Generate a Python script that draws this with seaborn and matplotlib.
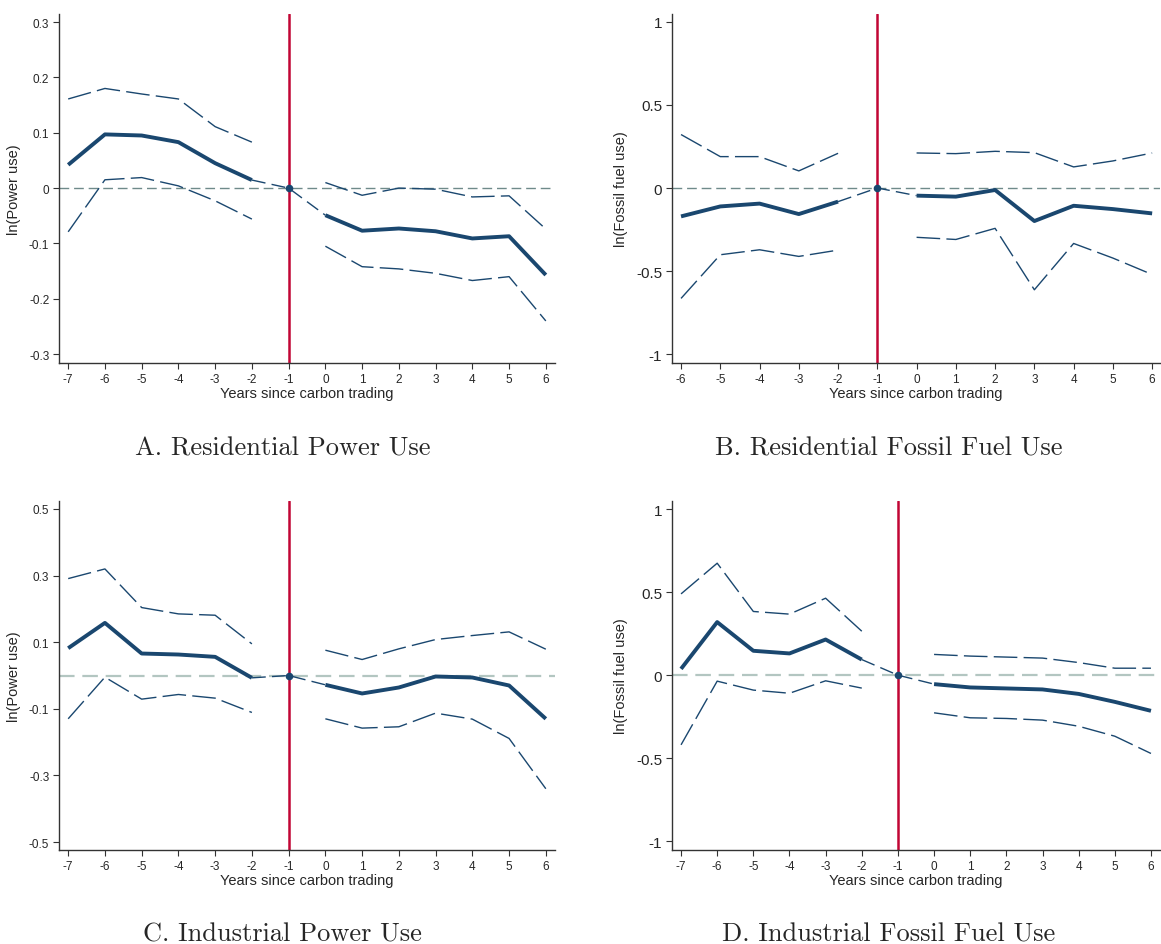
import numpy as np
import pandas as pd
import matplotlib
matplotlib.use("Agg")
import matplotlib.pyplot as plt
import seaborn as sns

# ---------------- data ----------------
years_a = [-7, -6, -5, -4, -3, -2, -1, 0, 1, 2, 3, 4, 5, 6]
coef_a = [0.042, 0.097, 0.095, 0.083, 0.045, 0.0145, 0.0, -0.049, -0.077, -0.073, -0.078, -0.091, -0.087, -0.157]
hi_a = [0.161, 0.180, 0.170, 0.161, 0.111, 0.083, np.nan, 0.010, -0.013, 0.000, -0.002, -0.016, -0.014, -0.074]
lo_a = [-0.079, 0.015, 0.019, 0.004, -0.023, -0.056, np.nan, -0.105, -0.142, -0.146, -0.154, -0.167, -0.160, -0.240]

years_b = [-6, -5, -4, -3, -2, -1, 0, 1, 2, 3, 4, 5, 6]
coef_b = [-0.171, -0.111, -0.094, -0.157, -0.082, 0.0, -0.046, -0.052, -0.012, -0.199, -0.107, -0.127, -0.153]
hi_b = [0.322, 0.189, 0.189, 0.103, 0.209, np.nan, 0.211, 0.207, 0.221, 0.213, 0.127, 0.163, 0.211]
lo_b = [-0.665, -0.402, -0.372, -0.412, -0.374, np.nan, -0.297, -0.310, -0.243, -0.613, -0.334, -0.422, -0.521]

years_c = [-7, -6, -5, -4, -3, -2, -1, 0, 1, 2, 3, 4, 5, 6]
coef_c = [0.082, 0.158, 0.066, 0.063, 0.056, -0.007, 0.0, -0.028, -0.054, -0.036, -0.003, -0.006, -0.030, -0.130]
hi_c = [0.291, 0.320, 0.204, 0.185, 0.181, 0.095, np.nan, 0.076, 0.048, 0.080, 0.108, 0.120, 0.131, 0.079]
lo_c = [-0.130, -0.005, -0.071, -0.057, -0.068, -0.111, np.nan, -0.130, -0.158, -0.154, -0.113, -0.131, -0.189, -0.340]

years_d = [-7, -6, -5, -4, -3, -2, -1, 0, 1, 2, 3, 4, 5, 6]
coef_d = [0.038, 0.320, 0.147, 0.131, 0.215, 0.094, 0.0, -0.054, -0.074, -0.080, -0.086, -0.113, -0.161, -0.215]
hi_d = [0.490, 0.675, 0.384, 0.368, 0.464, 0.265, np.nan, 0.125, 0.115, 0.109, 0.103, 0.076, 0.042, 0.042]
lo_d = [-0.420, -0.036, -0.090, -0.109, -0.034, -0.078, np.nan, -0.227, -0.257, -0.261, -0.271, -0.308, -0.368, -0.472]

titles = ["A. Residential Power Use", "B. Residential Fossil Fuel Use",
          "C. Industrial Power Use", "D. Industrial Fossil Fuel Use"]
ylabels = ["ln(Power use)", "ln(Fossil fuel use)", "ln(Power use)", "ln(Fossil fuel use)"]
xlabel = "Years since carbon trading"

yticks_a = [0.3, 0.2, 0.1, 0.0, -0.1, -0.2, -0.3]
yticklabels_a = ["0.3", "0.2", "0.1", "0", "-0.1", "-0.2", "-0.3"]
yticks_b = [1.0, 0.5, 0.0, -0.5, -1.0]
yticklabels_b = ["1", "0.5", "0", "-0.5", "-1"]
yticks_c = [0.5, 0.3, 0.1, -0.1, -0.3, -0.5]
yticklabels_c = ["0.5", "0.3", "0.1", "-0.1", "-0.3", "-0.5"]
yticks_d = yticks_b
yticklabels_d = yticklabels_b

# ---------------- style ----------------
sns.set_theme(style="ticks")
plt.rcParams["font.family"] = ["Liberation Sans", "DejaVu Sans"]

NAVY = "#1a476f"
RED = "#c10534"
DASH = (0, (17, 4.5))

fig = plt.figure(figsize=(11.61, 9.45), dpi=100)
W, H = 1161, 945


def add_ax(left, top, right, bottom):
    return fig.add_axes([left / W, 1 - bottom / H, (right - left) / W, (bottom - top) / H])


axes = [add_ax(59, 15, 555, 364), add_ax(672, 15, 1160, 364),
        add_ax(59, 502, 555, 851), add_ax(672, 502, 1160, 851)]

panels = [
    (years_a, coef_a, hi_a, lo_a, yticks_a, yticklabels_a, (-0.316, 0.3145), (-7.25, 6.25), "#6f8a8a", 1.0, 8.5),
    (years_b, coef_b, hi_b, lo_b, yticks_b, yticklabels_b, (-1.054, 1.048), (-6.23, 6.2), "#6f8a8a", 1.0, 11),
    (years_c, coef_c, hi_c, lo_c, yticks_c, yticklabels_c, (-0.524, 0.524), (-7.25, 6.25), "#b3c6c1", 1.6, 8.5),
    (years_d, coef_d, hi_d, lo_d, yticks_d, yticklabels_d, (-1.054, 1.05), (-7.25, 6.25), "#b3c6c1", 1.6, 11),
]

for ax, (yrs, coef, hi, lo, yt, ytl, ylim, xlim, zc, zlw, yfs), title, ylab in zip(axes, panels, titles, ylabels):
    df = pd.DataFrame({"year": yrs, "coef": coef, "hi": hi, "lo": lo})
    pre = df[df["year"] <= -2]
    post = df[df["year"] >= 0]
    bridge = df[(df["year"] >= -2) & (df["year"] <= 0)]

    # zero reference line
    ax.axhline(0, color=zc, lw=zlw, linestyle=(0, (7, 3.5)), zorder=1)
    # event line
    ax.axvline(-1, color=RED, lw=1.8, zorder=2)

    for part in (pre, post):
        sns.lineplot(data=part, x="year", y="hi", ax=ax, color=NAVY, lw=1.0,
                     linestyle=DASH, estimator=None, zorder=3)
        sns.lineplot(data=part, x="year", y="lo", ax=ax, color=NAVY, lw=1.0,
                     linestyle=DASH, estimator=None, zorder=3)
        sns.lineplot(data=part, x="year", y="coef", ax=ax, color=NAVY, lw=2.8,
                     estimator=None, zorder=4, solid_capstyle="butt")
    sns.lineplot(data=bridge, x="year", y="coef", ax=ax, color=NAVY, lw=1.0,
                 linestyle=(0, (10, 4.5)), estimator=None, zorder=3)
    ref = df[df["year"] == -1]
    sns.scatterplot(data=ref, x="year", y="coef", ax=ax, color=NAVY, s=30,
                    edgecolor=NAVY, linewidth=0, zorder=5)

    ax.set_xlim(*xlim)
    ax.set_ylim(*ylim)
    ax.set_xticks(yrs)
    ax.set_xticklabels([str(y) for y in yrs], fontsize=8.5)
    ax.set_yticks(yt)
    ax.set_yticklabels(ytl, fontsize=yfs)
    ax.set_xlabel(xlabel, fontsize=10.5, labelpad=1)
    ax.set_ylabel(ylab, fontsize=10.5, labelpad=6)
    ax.tick_params(axis="both", length=4, width=0.8, color="#333333", pad=3)
    sns.despine(ax=ax)
    for sp in ("left", "bottom"):
        ax.spines[sp].set_color("#333333")
        ax.spines[sp].set_linewidth(1.0)

# panel titles (serif, Computer Modern style)
title_pos = [(283, 449), (889, 449), (282, 935), (889, 935)]
for t, (x, y) in zip(titles, title_pos):
    fig.text(x / W, 1 - y / H, t, ha="center", va="center", fontsize=19,
             family=["cmr10", "DejaVu Serif"])

fig.savefig("out.png", dpi=100)
